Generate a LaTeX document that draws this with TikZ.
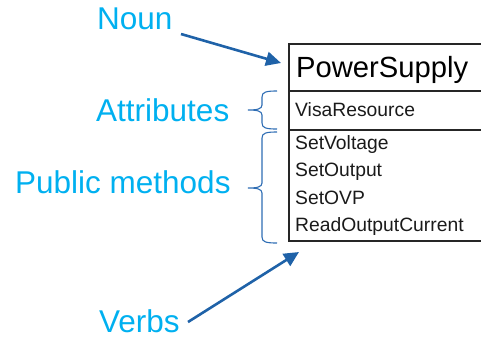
\documentclass[tikz,border=0pt]{standalone}
\usepackage{fontspec}
\setmainfont{Liberation Sans}
\usetikzlibrary{arrows.meta}
\definecolor{labelblue}{HTML}{00B0F0}
\definecolor{arrowblue}{HTML}{1F62A8}
\definecolor{braceblue}{HTML}{2E6DB4}
\definecolor{boxline}{HTML}{262626}
\definecolor{boxtext}{HTML}{1A1A1A}
\tikzset{
  lbl/.style={anchor=base west,inner sep=0pt,text=labelblue,font=\fontsize{31.5}{38}\selectfont},
  member/.style={anchor=base west,inner sep=0pt,text=boxtext,font=\fontsize{19.3}{23}\selectfont},
  classname/.style={anchor=base west,inner sep=0pt,text=black,font=\fontsize{29.2}{35}\selectfont},
  pointer/.style={draw=arrowblue,line width=2.6pt,-{Triangle[length=15pt,width=14pt]}},
  bracket/.style={draw=braceblue,line width=1.1pt},
  rule/.style={draw=boxline,line width=1.6pt}
}
\begin{document}
\begin{tikzpicture}[x=1pt,y=-1pt]
\useasboundingbox (0,0) rectangle (481,338);

% class box (continues past the right edge)
\coordinate (tl) at (289,44);
\coordinate (bl) at (289,241);
\draw[rule] (481,44) -- (tl) -- (bl) -- (481,241);
\draw[rule] (289,91) -- (481,91);
\draw[rule] (289,130) -- (481,130);

% box contents
\node[classname] (cls) at (296,77) {PowerSupply};
\node[member] (attr) at (295,116) {VisaResource};
\node[member] (m1) at (295,149) {SetVoltage};
\node[member] (m2) at (295,176) {SetOutput};
\node[member] (m3) at (295,204) {SetOVP};
\node[member] (m4) at (295,231) {ReadOutputCurrent};

% labels
\node[lbl] (noun) at (97,29) {Noun};
\node[lbl] (attrs) at (96,121) {Attributes};
\node[lbl] (methods) at (15,193) {Public methods};
\node[lbl,text depth=0pt] (verbs) at (99,332) {Verbs};

% pointers
\coordinate (nounstart) at (181,34);
\coordinate (nountip) at (281,63);
\coordinate (verbstart) at (188,322);
\coordinate (verbtip) at (299,252);
\draw[pointer] (nounstart) -- (nountip);
\draw[pointer] (verbstart) -- (verbtip);

% braces: curled ends, straight spine, pointed middle
\coordinate (at) at (277,91);
\coordinate (atip) at (248,110);
\coordinate (ab) at (277,129);
\draw[bracket] (at) .. controls (266,91) and (262,92) .. (262,97)
  -- (262,105) .. controls (262,109) and (257,110) .. (atip)
  .. controls (257,110) and (262,111) .. (262,115)
  -- (262,123) .. controls (262,128) and (266,129) .. (ab);

\coordinate (mt) at (277,132);
\coordinate (mtip) at (248,188);
\coordinate (mb) at (277,243);
\draw[bracket] (mt) .. controls (266,132) and (262,133) .. (262,138)
  -- (262,183) .. controls (262,187) and (257,188) .. (mtip)
  .. controls (257,188) and (262,189) .. (262,193)
  -- (262,237) .. controls (262,242) and (266,243) .. (mb);
\end{tikzpicture}
\end{document}
